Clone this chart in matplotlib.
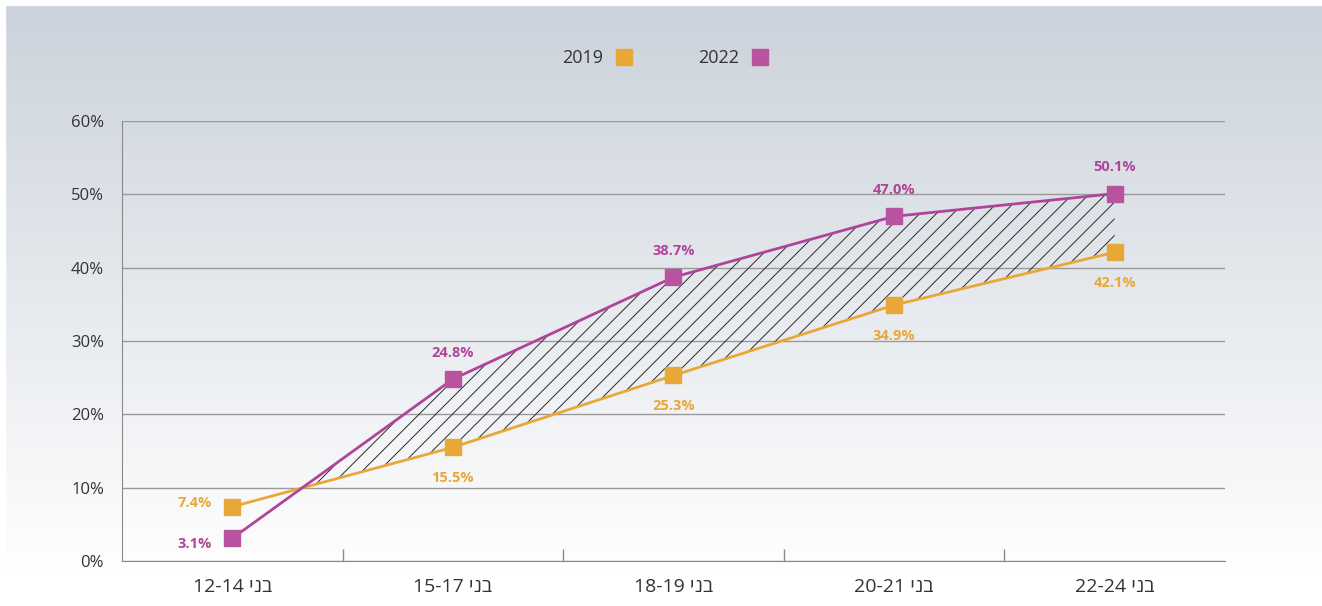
import numpy as np
import matplotlib
matplotlib.use("Agg")
import matplotlib.pyplot as plt
from matplotlib.lines import Line2D

# data
age_ranges = ["12-14", "15-17", "18-19", "20-21", "22-24"]
prefix = "בני"
y2019 = [7.4, 15.5, 25.3, 34.9, 42.1]
y2022 = [3.1, 24.8, 38.7, 47.0, 50.1]
series_names = ["2019", "2022"]

c2019 = "#E8A838"
c2022 = "#B9529F"
line2022 = "#B0449A"

plt.rcParams['font.family'] = ['Open Sans', 'DejaVu Sans']

# matplotlib has no bidi, so put the hebrew word in visual order
labels = [f"{r} {prefix[::-1]}" for r in age_ranges]

fig = plt.figure(figsize=(13.22, 6.06), dpi=100)

# background gradient
bg = fig.add_axes([0, 0, 1, 1], zorder=-10)
grad = np.linspace(0, 1, 256)[:, None]
top = np.array([203, 210, 219]) / 255
bot = np.array([255, 255, 255]) / 255
t = np.clip(grad * 1.05, 0, 1)
img = top[None, None, :] * (1 - t[..., None]) + bot[None, None, :] * t[..., None]
img = np.repeat(img, 2, axis=1)
bg.imshow(img, aspect='auto', extent=[0, 1, 0, 1], origin='upper')
bg.axhspan(0.992, 1, color='white')
bg.axvspan(0, 0.004, color='white')
bg.set_xlim(0, 1)
bg.set_ylim(0, 1)
bg.axis('off')

ax = fig.add_axes([0.0923, 0.0743, 0.8343, 0.726])
ax.patch.set_alpha(0)
x = np.arange(len(age_ranges))

ax.set_xlim(-0.5, 4.5)
ax.set_ylim(0, 60)
ax.set_yticks(range(0, 61, 10))
ax.set_yticklabels([f"{v}%" for v in range(0, 61, 10)], fontsize=12, color="#333333")
ax.yaxis.grid(True, color="#9a9a9a", linewidth=1)
ax.set_axisbelow(True)
ax.tick_params(axis='y', length=0, pad=13)

ax.set_xticks(x)
ax.set_xticklabels(labels, fontsize=14, color="#333333")
ax.set_xticks(x[:-1] + 0.5, minor=True)
ax.tick_params(axis='x', which='major', length=0, pad=12)
ax.tick_params(axis='x', which='minor', direction='in', length=9, color="#8a8a8a", width=1)

for s in ['top', 'right']:
    ax.spines[s].set_visible(False)
for s in ['left', 'bottom']:
    ax.spines[s].set_color("#8a8a8a")

a19 = np.array(y2019)
a22 = np.array(y2022)
plt.rcParams['hatch.linewidth'] = 0.7
ax.fill_between(x, a19, a22, where=a22 >= a19, interpolate=True,
                facecolor='none', edgecolor='#2a2a2a', hatch='//', linewidth=0)

ax.plot(x, y2019, color=c2019, linewidth=2, zorder=3)
ax.plot(x, y2022, color=line2022, linewidth=2, zorder=3)
ax.plot(x, y2019, 's', color=c2019, markersize=11.5, zorder=4)
ax.plot(x, y2022, 's', color=c2022, markersize=11.5, zorder=4)

# data labels
for i, v in enumerate(y2019):
    if i == 0:
        ax.annotate(f"{v}%", (x[i], v), xytext=(-15, 3), textcoords='offset points',
                    ha='right', va='center', color=c2019, fontsize=10.5, fontweight='bold')
    else:
        ax.annotate(f"{v}%", (x[i], v), xytext=(0, -17), textcoords='offset points',
                    ha='center', va='top', color=c2019, fontsize=10.5, fontweight='bold')
for i, v in enumerate(y2022):
    if i == 0:
        ax.annotate(f"{v}%", (x[i], v), xytext=(-15, -4), textcoords='offset points',
                    ha='right', va='center', color=line2022, fontsize=10.5, fontweight='bold')
    else:
        ax.annotate(f"{v}%", (x[i], v), xytext=(0, 14), textcoords='offset points',
                    ha='center', va='bottom', color=line2022, fontsize=10.5, fontweight='bold')

handles = [Line2D([], [], marker='s', linestyle='none', color=c2019, markersize=11),
           Line2D([], [], marker='s', linestyle='none', color=c2022, markersize=11)]
fig.legend(handles, series_names, loc='center', bbox_to_anchor=(0.507, 0.904),
           ncol=2, frameon=False, markerfirst=False, fontsize=13,
           columnspacing=3.1, handletextpad=0.15, labelcolor="#333333")

fig.savefig("out.png", dpi=100)
